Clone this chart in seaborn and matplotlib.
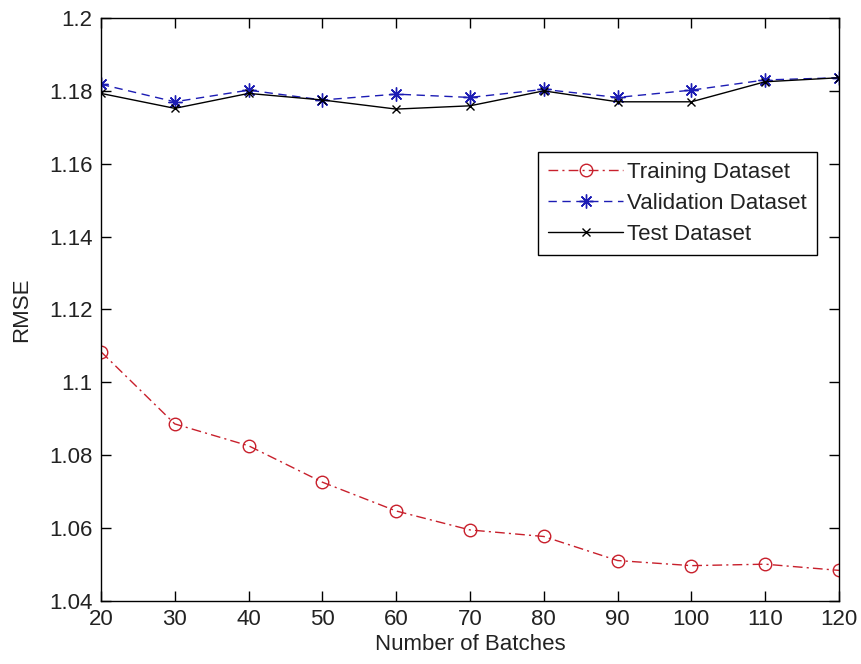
import numpy as np
import pandas as pd
import matplotlib
matplotlib.use("Agg")
import matplotlib.pyplot as plt
import seaborn as sns
from matplotlib.ticker import FuncFormatter

# Number of batches and RMSE per dataset
batches = [20, 30, 40, 50, 60, 70, 80, 90, 100, 110, 120]
rmse_training = [1.1084, 1.0886, 1.0826, 1.0726, 1.0647, 1.0595, 1.0577, 1.0511, 1.0497, 1.0501, 1.0484]
rmse_validation = [1.1818, 1.1770, 1.1802, 1.1775, 1.1791, 1.1782, 1.1804, 1.1782, 1.1802, 1.1830, 1.1836]
rmse_test = [1.1793, 1.1752, 1.1793, 1.1775, 1.1750, 1.1759, 1.1800, 1.1770, 1.1770, 1.1825, 1.1836]
series_names = ["Training Dataset", "Validation Dataset", "Test Dataset"]

x_ticks = [20, 30, 40, 50, 60, 70, 80, 90, 100, 110, 120]
y_ticks = [1.04, 1.06, 1.08, 1.1, 1.12, 1.14, 1.16, 1.18, 1.2]

sns.set_style("ticks")
plt.rcParams["font.family"] = ["Liberation Sans", "DejaVu Sans"]
plt.rcParams["font.size"] = 16

fig = plt.figure(figsize=(8.61, 6.64), dpi=100)
ax = fig.add_axes([0.1173, 0.0949, 0.9744 - 0.1173, 0.9729 - 0.0949])

df = pd.DataFrame({
    "batches": batches,
    series_names[0]: rmse_training,
    series_names[1]: rmse_validation,
    series_names[2]: rmse_test,
})

red = "#c8202c"
blue = "#1c1cb4"
text_color = "#222222"

sns.lineplot(data=df, x="batches", y=series_names[0], ax=ax, color=red,
             linestyle=(0, (7, 3, 1.5, 3)), linewidth=1.0, marker="o", markersize=9,
             markerfacecolor="none", markeredgecolor=red, markeredgewidth=1.0,
             label=series_names[0])
sns.lineplot(data=df, x="batches", y=series_names[1], ax=ax, color=blue,
             linestyle=(0, (6, 4)), linewidth=1.0, marker=(8, 2, 0), markersize=10,
             markeredgecolor=blue, markeredgewidth=1.0,
             label=series_names[1])
sns.lineplot(data=df, x="batches", y=series_names[2], ax=ax, color="black",
             linestyle="-", linewidth=1.0, marker="x", markersize=6,
             markeredgecolor="black", markeredgewidth=1.0,
             label=series_names[2])

ax.set_xlim(20, 120)
ax.set_ylim(1.04, 1.2)
ax.set_xticks(x_ticks)
ax.set_yticks(y_ticks)
ax.yaxis.set_major_formatter(FuncFormatter(lambda v, p: f"{v:g}"))

ax.tick_params(direction="in", length=7, width=1, top=True, right=True,
               labelsize=16, color="black", labelcolor=text_color)
ax.tick_params(axis="x", pad=6)
ax.tick_params(axis="y", pad=6)
for s in ax.spines.values():
    s.set_linewidth(1.0)
    s.set_color("black")

ax.set_xlabel("Number of Batches", fontsize=16, labelpad=3, color=text_color)
ax.set_ylabel("RMSE", fontsize=16, labelpad=12, color=text_color)

leg = ax.legend(loc="upper left", bbox_to_anchor=(0.592, 0.770),
                fontsize=16, handlelength=3.4, handletextpad=0.15,
                labelspacing=0.45, borderpad=0.45, borderaxespad=0.0,
                fancybox=False, frameon=True, framealpha=1.0)
leg.get_frame().set_edgecolor("black")
leg.get_frame().set_linewidth(1.0)
for t in leg.get_texts():
    t.set_color(text_color)

fig.savefig("out.png", dpi=100, facecolor="white")
